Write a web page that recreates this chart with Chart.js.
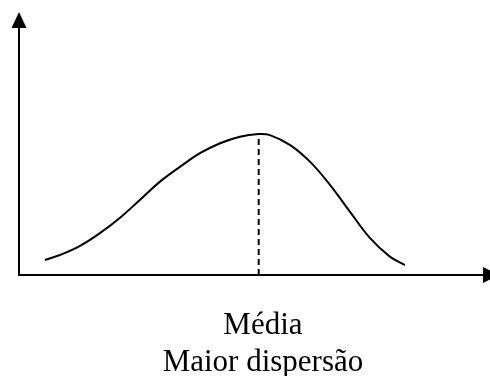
<!DOCTYPE html>
<html>
<head>
<meta charset="utf-8">
<script src="https://cdn.jsdelivr.net/npm/chart.js@4/dist/chart.umd.min.js"></script>
<style>
    html, body { margin: 0; padding: 0; background: #fff; }
    canvas { display: block; }
</style>
</head>
<body>
<canvas id="chart" width="490" height="376"></canvas>
<script>
// curve (x and y in 0..100 units of the plot area)
const curveX = [5.5, 8.7, 13.0, 17.2, 21.5, 25.7, 30.0, 34.3, 38.5, 42.8, 47.0, 51.0, 53.4, 57.7, 61.9, 66.2, 70.4, 74.7, 78.9, 82.1];
const curveY = [5.7, 7.6, 11.1, 15.9, 21.8, 28.5, 35.5, 41.2, 46.3, 50.1, 52.6, 53.6, 53.2, 49.4, 43.1, 34.2, 24.1, 14.0, 7.0, 3.8];
const meanX = 51.0;
const meanY = 53.6;
const labelLines = ['Média', 'Maior dispersão'];

const curve = curveX.map((x, i) => ({ x: x, y: curveY[i] }));

const axesPlugin = {
    id: 'axes',
    afterDraw(chart) {
        const ctx = chart.ctx;
        const xs = chart.scales.x;
        const ys = chart.scales.y;
        const x0 = xs.getPixelForValue(0);
        const y0 = ys.getPixelForValue(0);
        const top = chart.chartArea.top;
        const right = chart.chartArea.right;

        ctx.save();
        ctx.strokeStyle = '#000';
        ctx.fillStyle = '#000';
        ctx.lineWidth = 2;

        ctx.beginPath();
        ctx.moveTo(x0 - 1, y0);
        ctx.lineTo(right - 6, y0);
        ctx.moveTo(x0, y0);
        ctx.lineTo(x0, top + 16);
        ctx.stroke();

        // y arrow head
        ctx.beginPath();
        ctx.moveTo(x0, top);
        ctx.lineTo(x0 - 7.5, top + 16);
        ctx.lineTo(x0 + 7.5, top + 16);
        ctx.closePath();
        ctx.fill();

        // x arrow head
        ctx.beginPath();
        ctx.moveTo(right + 10, y0);
        ctx.lineTo(right - 6, y0 - 8);
        ctx.lineTo(right - 6, y0 + 8);
        ctx.closePath();
        ctx.fill();

        // labels under the axis
        ctx.font = '31px "Liberation Serif", "Times New Roman", serif';
        ctx.textAlign = 'center';
        ctx.textBaseline = 'alphabetic';
        const cx = xs.getPixelForValue(51.9);
        ctx.fillText(labelLines[0], cx, y0 + 59);
        ctx.fillText(labelLines[1], cx, y0 + 96);
        ctx.restore();
    }
};

new Chart(document.getElementById('chart'), {
    type: 'scatter',
    data: {
        datasets: [
            {
                data: curve,
                showLine: true,
                borderColor: '#000',
                borderWidth: 2,
                pointRadius: 0,
                tension: 0.4,
                fill: false
            },
            {
                data: [{ x: meanX, y: 0 }, { x: meanX, y: meanY }],
                showLine: true,
                borderColor: '#000',
                borderWidth: 2,
                borderDash: [6, 4],
                pointRadius: 0,
                fill: false
            }
        ]
    },
    options: {
        responsive: false,
        animation: false,
        layout: { padding: { left: 19, right: 1, top: 12, bottom: 101 } },
        plugins: {
            legend: { display: false },
            tooltip: { enabled: false }
        },
        scales: {
            x: { type: 'linear', min: 0, max: 100, display: false },
            y: { type: 'linear', min: 0, max: 100, display: false }
        }
    },
    plugins: [axesPlugin]
});
</script>
</body>
</html>
